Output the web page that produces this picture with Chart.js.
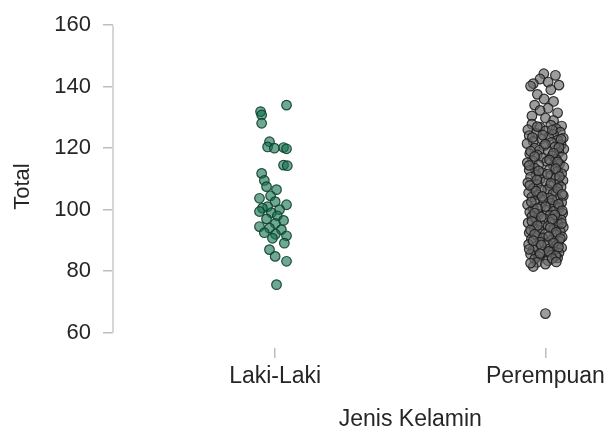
<!DOCTYPE html>
<html>
<head>
<meta charset="utf-8">
<script src="https://cdn.jsdelivr.net/npm/chart.js@4/dist/chart.umd.min.js"></script>
<style>
  html, body { margin: 0; padding: 0; background: #fff; }
  #wrap { width: 611px; height: 429px; }
</style>
</head>
<body>
<div id="wrap"><canvas id="strip" width="611" height="429"></canvas></div>
<script>
'use strict'

var categories = ['Laki-Laki', 'Perempuan']
var yTicks = [60, 80, 100, 120, 140, 160]

// Laki-Laki: total and horizontal jitter (category units)
var lakiTotal = [134.0, 131.9, 130.8, 128.1, 122.1, 120.4, 120.0, 120.2, 119.8, 114.5,
  114.3, 111.8, 109.5, 107.5, 106.5, 104.5, 103.7, 102.6, 101.6, 101.0,
  100.5, 100.0, 99.4, 99.0, 98.0, 97.0, 96.5, 95.5, 94.5, 94.0,
  93.5, 92.5, 92.0, 91.5, 90.7, 89.1, 87.0, 84.8, 83.2, 75.6]
var lakiJitter = [0.042, -0.054, -0.05, -0.05, -0.021, -0.028, -0.003, 0.031, 0.042, 0.031,
  0.045, -0.05, -0.04, -0.032, 0.005, -0.017, -0.058, 0.0, 0.042, -0.028,
  -0.047, 0.016, -0.058, -0.014, 0.008, -0.032, 0.031, 0.001, -0.058, -0.021,
  0.023, -0.04, 0.001, 0.042, -0.01, 0.034, -0.021, 0.0, 0.042, 0.005]

// Perempuan
var perempuanTotal = [144.2, 143.7, 142.5, 141.5, 141.0, 140.5, 140.2, 139.0, 137.5, 136.0,
  135.2, 134.0, 133.0, 132.3, 131.5, 130.5, 129.8, 129.0,
  127.8, 127.5, 127.2, 126.8, 126.3, 126.0, 125.6, 125.2,
  124.8, 124.5, 124.1, 123.7, 123.3, 123.0, 122.6, 122.2,
  121.9, 121.5, 121.1, 120.8, 120.4, 120.0, 119.7, 119.3,
  118.9, 118.6, 118.2, 117.8, 117.5, 117.1, 116.8, 116.4,
  116.0, 115.7, 115.3, 114.9, 114.6, 114.2, 113.8, 113.5,
  113.1, 112.8, 112.4, 112.0, 111.7, 111.3, 111.0, 110.6,
  110.2, 109.9, 109.5, 109.2, 108.8, 108.4, 108.1, 107.7,
  107.4, 107.0, 106.6, 106.3, 105.9, 105.5, 105.2, 104.8,
  104.5, 104.1, 103.8, 103.4, 103.0, 102.7, 102.3, 102.0,
  101.6, 101.3, 100.9, 100.6, 100.2, 99.9, 99.5, 99.2,
  98.8, 98.5, 98.1, 97.8, 97.4, 97.1, 96.7, 96.4,
  96.0, 95.7, 95.3, 95.0, 94.6, 94.3, 93.9, 93.6,
  93.2, 92.9, 92.5, 92.2, 91.8, 91.5, 91.1, 90.8,
  90.4, 90.1, 89.7, 89.4, 89.0, 88.7, 88.3, 88.0,
  87.6, 87.3, 86.9, 86.6, 86.2, 85.9, 85.5, 85.2,
  84.8, 84.3, 83.9, 83.4, 82.9, 82.3, 81.5, 66.2,
  127.0, 125.9, 124.3, 123.5, 122.9, 121.3, 120.2, 119.0,
  118.4, 117.3, 116.2, 115.5, 114.4, 113.3, 112.6, 111.5,
  110.8, 109.7, 108.6, 107.9, 106.9, 106.0, 105.0, 104.3,
  103.2, 102.5, 101.8, 101.0, 100.4, 99.7, 98.9, 98.3,
  97.6, 96.9, 96.2, 95.5, 94.8, 94.1, 93.4, 92.7,
  92.0, 91.3, 90.6, 89.9, 89.2, 88.5, 87.8, 87.1,
  86.4, 85.7, 85.0, 84.1, 83.0, 82.6]
var perempuanJitter = [-0.006, 0.037, -0.02, 0.01, -0.045, 0.05, -0.055, 0.02, -0.03, -0.005,
  0.03, -0.04, 0.01, -0.02, 0.045, -0.05, 0.0, 0.03,
  -0.05, 0.02, 0.06, -0.02, 0.04, -0.065, 0.0, 0.055,
  -0.035, 0.03, -0.06, 0.012, 0.066, -0.015, 0.045, -0.045,
  0.022, -0.068, 0.058, -0.005, 0.035, -0.04, 0.068, -0.022,
  0.01, 0.05, -0.058, -0.03, 0.025, 0.062, -0.01, 0.04,
  -0.048, 0.005, -0.067, 0.052, -0.025, 0.03, 0.068, -0.04,
  0.015, -0.06, 0.045, -0.012, 0.06, -0.035, 0.02, -0.055,
  0.038, -0.02, 0.065, 0.0, -0.065, 0.048, -0.03, 0.018,
  0.058, -0.045, 0.008, -0.015, 0.04, -0.062, 0.028, -0.028,
  0.066, -0.05, 0.012, 0.045, -0.008, -0.04, 0.06, 0.02,
  -0.066, 0.035, -0.018, 0.052, -0.045, 0.005, 0.03, -0.058,
  0.064, -0.025, 0.016, -0.05, 0.042, -0.005, 0.058, -0.036,
  0.022, -0.064, 0.048, -0.015, 0.01, 0.066, -0.042, 0.03,
  -0.022, 0.055, -0.06, 0.0, 0.038, -0.032, 0.062, -0.01,
  -0.052, 0.025, 0.05, -0.02, 0.008, -0.062, 0.04, -0.035,
  0.06, 0.015, -0.045, 0.03, -0.01, 0.05, -0.055, 0.02,
  -0.025, 0.045, -0.04, 0.01, -0.03, 0.0, -0.045, 0.0,
  -0.03, 0.025, -0.01, -0.048, 0.058, 0.0, 0.05, -0.055,
  0.03, -0.04, 0.015, 0.045, -0.06, 0.038, -0.025, 0.008,
  0.052, -0.032, 0.02, -0.058, 0.045, -0.035, 0.062, -0.012,
  0.025, -0.052, 0.048, 0.0, -0.03, 0.062, -0.04, 0.035,
  -0.015, 0.025, -0.05, 0.06, -0.03, 0.018, -0.055, 0.04,
  -0.04, 0.012, 0.055, -0.045, 0.03, -0.015, 0.048, -0.06,
  0.012, -0.02, 0.038, 0.025, 0.04, -0.055]

var FONT = '"Liberation Sans", Arial, sans-serif'
var TEXT = '#262626'

function toPoints(cat, totals, jitter) {
  return totals.map(function(v, i) { return { x: cat + jitter[i], y: v } })
}

var axisExtras = {
  id: 'axisExtras',
  beforeDatasetsDraw: function(chart) {
    var ctx = chart.ctx
    var y = chart.scales.y
    ctx.save()
    ctx.strokeStyle = '#d2d2d2'
    ctx.lineWidth = 1.8
    ctx.beginPath()
    ctx.moveTo(chart.chartArea.left, y.getPixelForValue(yTicks[0]))
    ctx.lineTo(chart.chartArea.left, y.getPixelForValue(yTicks[yTicks.length - 1]))
    ctx.stroke()
    ctx.restore()
  },
  afterDraw: function(chart) {
    var ctx = chart.ctx
    var x = chart.scales.x
    ctx.save()
    ctx.fillStyle = TEXT
    ctx.font = '23px ' + FONT
    ctx.textAlign = 'center'
    ctx.textBaseline = 'middle'
    ctx.fillText('Jenis Kelamin', x.getPixelForValue(1.5), chart.height - 9)
    ctx.restore()
  }
}

var chart = new Chart(document.getElementById('strip').getContext('2d'), {
  type: 'scatter',
  data: {
    datasets: [{
      label: categories[0],
      data: toPoints(1, lakiTotal, lakiJitter),
      backgroundColor: 'rgba(22,115,80,0.62)',
      borderColor: 'rgba(14,62,44,0.9)',
      borderWidth: 1.2,
      pointRadius: 4.8
    }, {
      label: categories[1],
      data: toPoints(2, perempuanTotal, perempuanJitter),
      backgroundColor: 'rgba(105,105,105,0.65)',
      borderColor: 'rgba(30,30,30,0.9)',
      borderWidth: 1.2,
      pointRadius: 4.8
    }]
  },
  options: {
    responsive: false,
    animation: false,
    devicePixelRatio: 1,
    layout: { padding: { top: 25, right: 10, bottom: 40, left: 0 } },
    plugins: { legend: { display: false }, tooltip: { enabled: false } },
    scales: {
      x: {
        type: 'linear',
        min: 0.4,
        max: 2.2,
        afterFit: function(scale) { scale.height = 41 },
        afterBuildTicks: function(scale) {
          scale.ticks = categories.map(function(c, i) { return { value: i + 1 } })
        },
        border: { display: false },
        grid: { drawOnChartArea: false, drawTicks: true, tickLength: 10, color: '#bdbdbd', lineWidth: 1.5 },
        ticks: {
          padding: 5,
          color: TEXT,
          font: { family: FONT, size: 23 },
          maxRotation: 0,
          callback: function(v) { return categories[v - 1] }
        }
      },
      y: {
        min: 55,
        max: 160,
        afterFit: function(scale) { scale.width = 113 },
        afterBuildTicks: function(scale) {
          scale.ticks = yTicks.map(function(v) { return { value: v } })
        },
        border: { display: false },
        grid: { drawOnChartArea: false, drawTicks: true, tickLength: 10, color: '#bdbdbd', lineWidth: 1.5 },
        ticks: { padding: 12, color: TEXT, font: { family: FONT, size: 22 } },
        title: { display: true, text: 'Total', color: TEXT, font: { family: FONT, size: 22 }, padding: { top: 10, bottom: 0 } }
      }
    }
  },
  plugins: [axisExtras]
})
</script>
</body>
</html>
